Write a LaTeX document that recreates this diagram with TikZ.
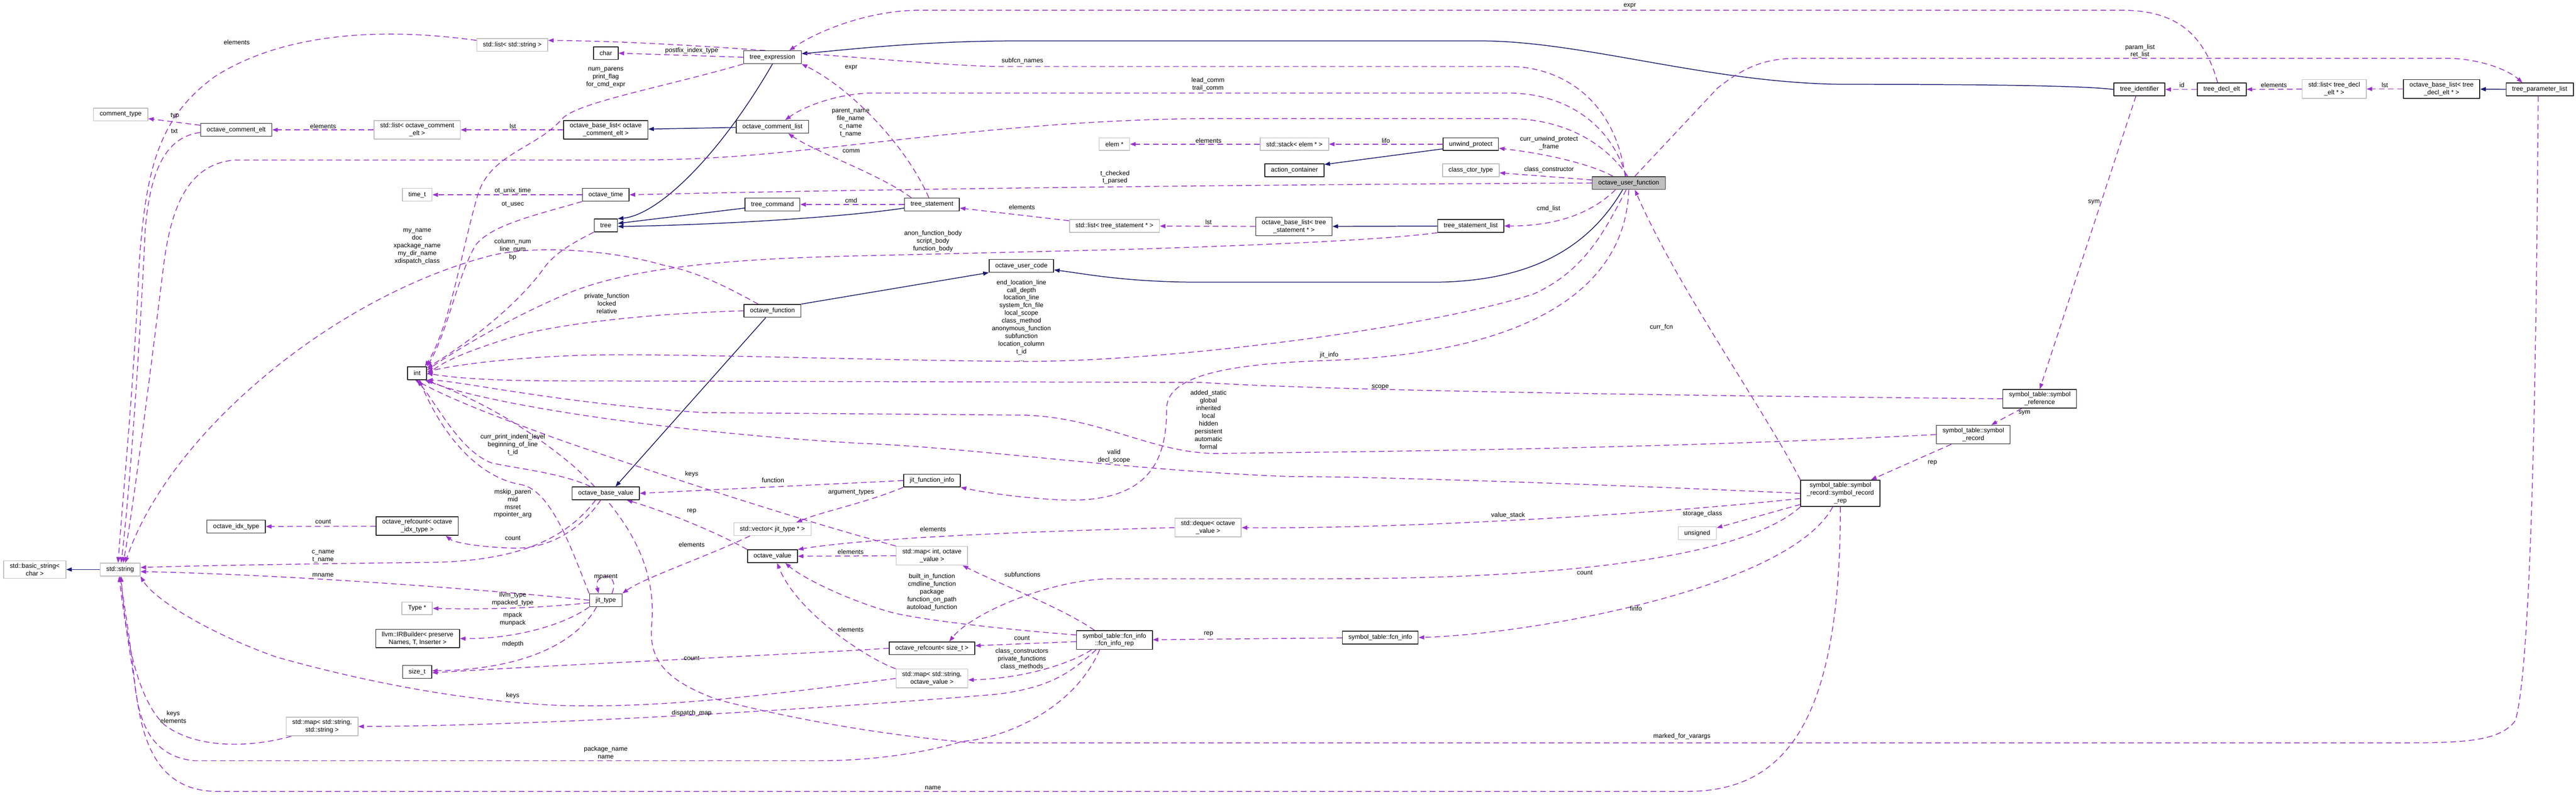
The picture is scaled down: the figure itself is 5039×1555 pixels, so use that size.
\documentclass[tikz,border=0pt]{standalone}
\usepackage{fontspec}
\setmainfont{Liberation Sans}
\usetikzlibrary{arrows.meta,backgrounds}
\definecolor{navy}{HTML}{191970}
\definecolor{orchid}{HTML}{9A32CD}
\definecolor{boxgray}{HTML}{BFBFBF}
\begin{document}
\begin{tikzpicture}[x=1pt, y=-1pt, font=\fontsize{12.5}{15}\selectfont, line join=round,
  cls/.style={draw=black!85, line width=1.5pt, fill=white, inner xsep=12pt, inner ysep=5pt, minimum height=25pt, align=center},
  ext/.style={cls, draw=boxgray},
  rootcls/.style={cls, fill=boxgray, draw=black!75},
  inhedge/.style={draw=navy, line width=1.5pt, -{Triangle[length=11pt,width=8pt]}},
  usedge/.style={draw=orchid, line width=1.5pt, dash pattern=on 11pt off 7pt, -{Triangle[length=11pt,width=8pt]}},
  lbl/.style={inner sep=0pt, align=center}]
\useasboundingbox (0,0) rectangle (5039,1555);
% classes
\node[ext] (ctype) at (236,224) {comment\_type};
\node[cls] (oce) at (462,254) {octave\_comment\_elt};
\node[ext] (lcom) at (816,254) {std::list< octave\_comment\\\_elt >};
\node[ext] (timet) at (816,381) {time\_t};
\node[cls] (int) at (816,730) {int};
\node[ext] (str) at (235,1114) {std::string};
\node[ext] (bstr) at (68,1114) {std::basic\_string<\\char >};
\node[cls] (idx) at (462,1030) {octave\_idx\_type};
\node[cls] (rci) at (816,1029) {octave\_refcount< octave\\\_idx\_type >};
\node[ext] (typep) at (816,1190) {Type *};
\node[cls] (irb) at (817,1249) {llvm::IRBuilder< preserve\\Names, T, Inserter >};
\node[cls] (sizet) at (816,1314) {size\_t};
\node[ext] (mss) at (630,1421) {std::map< std::string,\\std::string >};
\node[ext] (lstr) at (1002,88) {std::list< std::string >};
\node[cls] (char) at (1185,104) {char};
\node[cls] (texpr) at (1511,112) {tree\_expression};
\node[cls] (blc) at (1185,254) {octave\_base\_list< octave\\\_comment\_elt >};
\node[cls] (ocl) at (1511,248) {octave\_comment\_list};
\node[cls] (otime) at (1185,381) {octave\_time};
\node[cls] (tcmd) at (1511,400) {tree\_command};
\node[cls] (tree) at (1185,441) {tree};
\node[cls] (ofn) at (1511,608) {octave\_function};
\node[cls] (obv) at (1185,965) {octave\_base\_value};
\node[ext] (vjit) at (1511,1035) {std::vector< jit\_type * >};
\node[cls] (jit) at (1185,1174) {jit\_type};
\node[cls] (ov) at (1511,1088) {octave\_value};
\node[cls] (tstmt) at (1823,400) {tree\_statement};
\node[cls] (ouc) at (1998,520) {octave\_user\_code};
\node[cls] (jitfi) at (1823,940) {jit\_function\_info};
\node[ext] (mio) at (1823,1087) {std::map< int, octave\\\_value >};
\node[cls] (rcs) at (1823,1268) {octave\_refcount< size\_t >};
\node[ext] (mso) at (1823,1327) {std::map< std::string,\\octave\_value >};
\node[ext] (elem) at (2180,282) {elem *};
\node[ext] (lstmt) at (2180,442) {std::list< tree\_statement * >};
\node[cls] (fir) at (2180,1252) {symbol\_table::fcn\_info\\::fcn\_info\_rep};
\node[ext] (deque) at (2363,1032) {std::deque< octave\\\_value >};
\node[ext] (stack) at (2532,282) {std::stack< elem * >};
\node[cls] (act) at (2532,333) {action\_container};
\node[cls] (bls) at (2531,443) {octave\_base\_list< tree\\\_statement * >};
\node[cls] (uwp) at (2877,282) {unwind\_protect};
\node[ext] (cct) at (2877,333) {class\_ctor\_type};
\node[cls] (tsl) at (2877,442) {tree\_statement\_list};
\node[rootcls] (ouf) at (3186,358) {octave\_user\_function};
\node[cls] (tid) at (4185,175) {tree\_identifier};
\node[cls] (tde) at (4346,175) {tree\_decl\_elt};
\node[ext] (ldecl) at (4566,174) {std::list< tree\_decl\\\_elt * >};
\node[cls] (bld) at (4776,174) {octave\_base\_list< tree\\\_decl\_elt * >};
\node[cls] (tpl) at (4968,175) {tree\_parameter\_list};
\node[cls] (symref) at (3990,780) {symbol\_table::symbol\\\_reference};
\node[cls] (symrec) at (3860,850) {symbol\_table::symbol\\\_record};
\node[cls] (rep) at (3600,965) {symbol\_table::symbol\\\_record::symbol\_record\\\_rep};
\node[ext] (uns) at (3320,1043) {unsigned};
\node[cls] (fci) at (2700,1247) {symbol\_table::fcn\_info};
% connectors
\begin{scope}[on background layer]
\fill[white] (0,0) rectangle (5039,1555);
% inheritance
\draw[inhedge] (str) -- (bstr);
\draw[inhedge] (texpr.south) .. controls (1410,300) and (1290,420) .. (tree.north east);
\draw[inhedge] ([yshift=-7pt]tcmd.west) -- ([yshift=4pt]tree.east);
\draw[inhedge] ([yshift=-7pt]tstmt.west) .. controls (1650,425) and (1400,440) .. ([yshift=-2pt]tree.east);
\draw[inhedge] (ocl) -- (blc);
\draw[inhedge] (tid.west) .. controls (4080,168) and (3900,165) .. (3617,165) .. controls (3350,165) and (3100,80) .. (2895,80) -- (1991,80) .. controls (1800,80) and (1650,98) .. ([yshift=7pt]texpr.east);
\draw[inhedge] ([xshift=-13pt]ofn.south) -- ([xshift=19pt]obv.north);
\draw[inhedge] (ofn.north east) -- (ouc.south west);
\draw[inhedge] ([xshift=-12pt]ouf.south) .. controls (3110,480) and (3000,552) .. (2800,552) -- (2350,552) .. controls (2200,552) and (2120,535) .. ([yshift=-8pt]ouc.east);
\draw[inhedge] ([yshift=4pt]uwp.south west) -- ([yshift=-2pt]act.north east);
\draw[inhedge] (tsl) -- (bls);
\draw[inhedge] (tpl) -- (bld);
% usage
\draw[usedge] ([yshift=9pt]oce.west) -- ([yshift=-8pt]ctype.east);
\draw[usedge] ([yshift=-5pt]oce.west) .. controls (330,268) and (295,320) .. (284,450) .. controls (275,650) and (255,950) .. ([xshift=2pt]str.north);
\draw[usedge] ([yshift=9pt]lstr.west) .. controls (760,55) and (560,60) .. (420,150) .. controls (310,230) and (285,330) .. (272,520) .. controls (262,750) and (242,950) .. ([xshift=-4pt]str.north);
\draw[usedge] (lcom) -- (oce);
\draw[usedge] (blc) -- (lcom);
\draw[usedge] (texpr.west) -- (char.east);
\draw[usedge] ([xshift=-7pt]ouf.north) .. controls (3160,200) and (3060,130) .. (2950,130) -- (1950,130) .. controls (1800,128) and (1400,82) .. ([yshift=9pt]lstr.east);
\draw[usedge] ([xshift=-8pt]tde.north) .. controls (4310,60) and (4250,20) .. (4150,20) -- (1800,20) .. controls (1700,20) and (1600,60) .. ([xshift=33pt]texpr.north);
\draw[usedge] ([xshift=-6pt]tstmt.north) .. controls (1770,280) and (1660,170) .. (texpr.south east);
\draw[usedge] (texpr.south west) .. controls (1300,170) and (1130,200) .. (1100,232) .. controls (1050,290) and (960,300) .. (935,380) .. controls (905,480) and (880,640) .. ([xshift=-4pt]int.north east);
\draw[usedge] ([xshift=14pt]tstmt.north west) .. controls (1720,340) and (1600,300) .. ([xshift=31pt]ocl.south);
\draw[usedge] ([xshift=-5pt]ouf.north) .. controls (3150,240) and (3060,182) .. (2950,182) -- (1700,182) .. controls (1630,185) and (1570,210) .. ([xshift=25pt]ocl.north);
\draw[usedge] ([xshift=-2pt]ouf.north) .. controls (3140,280) and (3060,232) .. (2950,232) -- (2350,232) .. controls (2000,235) and (1700,285) .. (1450,305) .. controls (1350,312) and (1300,313) .. (1200,313) -- (460,313) .. controls (370,320) and (335,400) .. (320,520) .. controls (295,720) and (260,1000) .. ([xshift=6pt]str.north);
\draw[usedge] (ouf.west) .. controls (2600,360) and (1800,368) .. (otime.east);
\draw[usedge] (otime) -- (timet);
\draw[usedge] (otime.south west) .. controls (1050,420) and (960,440) .. (930,480) .. controls (895,540) and (875,650) .. (int.north east);
\draw[usedge] (tree.south west) .. controls (1110,480) and (1080,500) .. (1060,530) .. controls (1000,610) and (900,680) .. ([yshift=-3pt]int.north east);
\draw[usedge] (tstmt.west) -- (tcmd.east);
\draw[usedge] ([yshift=-3pt]lstmt.north west) -- ([yshift=-7pt]tstmt.east);
\draw[usedge] (bls) -- (lstmt);
\draw[usedge] ([xshift=-26pt]ouf.south) .. controls (3110,420) and (3040,442) .. (tsl.east);
\draw[usedge] (tsl.south west) .. controls (2700,470) and (2450,480) .. (2200,488) -- (1700,500) .. controls (1450,505) and (1250,520) .. (1120,570) .. controls (1000,620) and (900,680) .. ([yshift=6pt]int.east);
\draw[usedge] (stack) -- (elem);
\draw[usedge] (uwp) -- (stack);
\draw[usedge] ([xshift=-31pt]ouf.north) .. controls (3110,320) and (3020,300) .. ([yshift=-8pt]uwp.east);
\draw[usedge] ([yshift=6pt]ouf.west) -- ([yshift=-5pt]cct.east);
\draw[usedge] ([xshift=12pt]ouf.north) -- (3360,172) .. controls (3420,125) and (3460,114) .. (3520,114) -- (4790,114) .. controls (4860,116) and (4910,140) .. ([xshift=-34pt]tpl.north);
\draw[usedge] (tde) -- (tid);
\draw[usedge] (ldecl) -- (tde);
\draw[usedge] (bld) -- (ldecl);
\draw[usedge] ([xshift=-7pt]tid.south) -- (symref.north);
\draw[usedge] (symref) -- (symrec);
\draw[usedge] (symrec) -- (rep);
\draw[usedge] (rep.north west) .. controls (3450,800) and (3280,560) .. ([xshift=12pt]ouf.south);
\draw[usedge] (symref.west) .. controls (3400,775) and (2600,765) .. (2350,748) -- (1100,745) .. controls (950,745) and (880,738) .. (int.east);
\draw[usedge] (symrec.west) .. controls (3200,880) and (2600,884) .. (2376,887) .. controls (2250,885) and (2150,815) .. (2000,812) -- (1376,807) .. controls (1100,790) and (900,745) .. (int.south east);
\draw[usedge] (rep.west) .. controls (3200,950) and (2700,932) .. (2520,932) .. controls (2200,920) and (1900,875) .. (1680,867) .. controls (1300,845) and (950,790) .. ([xshift=-4pt]int.south east);
\draw[usedge] ([xshift=-5pt]ouf.south) .. controls (3140,450) and (3100,530) .. (3000,575) .. controls (2800,640) and (2300,707) .. (2000,707) .. controls (1700,705) and (1300,690) .. (1135,695) .. controls (1000,700) and (900,712) .. ([yshift=3pt]int.east);
\draw[usedge] (ouf.south) .. controls (3180,560) and (3000,690) .. (2600,705) .. controls (2380,712) and (2282,740) .. (2282,800) .. controls (2282,900) and (2250,990) .. (2060,977) .. controls (1980,972) and (1920,962) .. (jitfi.south east);
\draw[usedge] (jitfi.west) -- (obv.east);
\draw[usedge] (jitfi.south west) .. controls (1690,985) and (1610,1000) .. ([xshift=47pt]vjit.north);
\draw[usedge] ([xshift=-44pt]vjit.south) .. controls (1380,1090) and (1260,1130) .. (jit.north east);
\draw[usedge] ([xshift=12pt]jit.north) .. controls (1215,1118) and (1160,1118) .. ([xshift=-14pt]jit.north);
\draw[usedge] (jit.north west) .. controls (1120,1080) and (1080,960) .. (1020,948) .. controls (940,935) and (870,860) .. ([xshift=4pt]int.south);
\draw[usedge] (jit.west) .. controls (1000,1158) and (600,1125) .. ([yshift=-4pt]str.east);
\draw[usedge] ([yshift=-5pt]jit.west) .. controls (1050,1190) and (950,1192) .. (typep.east);
\draw[usedge] (jit.south west) .. controls (1100,1225) and (1000,1250) .. (irb.east);
\draw[usedge] ([xshift=-18pt]jit.south) .. controls (1120,1270) and (1000,1310) .. ([yshift=2pt]sizet.east);
\draw[usedge] (rcs.west) .. controls (1550,1280) and (1100,1300) .. ([yshift=-2pt]sizet.east);
\draw[usedge] (rci) -- (idx);
\draw[usedge] ([xshift=-10pt]obv.south) .. controls (1140,1030) and (1080,1075) .. (1000,1072) .. controls (940,1070) and (890,1062) .. ([xshift=56pt]rci.south);
\draw[usedge] ([xshift=-20pt]obv.south) .. controls (1110,1050) and (1020,1098) .. (840,1100) .. controls (600,1103) and (400,1106) .. ([yshift=4pt]str.east);
\draw[usedge] ([xshift=-30pt]obv.north) .. controls (1100,925) and (1000,915) .. (960,905) .. controls (900,880) and (860,800) .. (int.south);
\draw[usedge] (ov.north west) .. controls (1400,1040) and (1300,1000) .. ([xshift=41pt]obv.south);
\draw[usedge] (deque.west) .. controls (2000,1040) and (1700,1052) .. (ov.north east);
\draw[usedge] (mio.west) -- (ov.east);
\draw[usedge] (mio.north west) .. controls (1500,1000) and (1150,880) .. (1080,855) .. controls (1000,825) and (900,790) .. ([xshift=-4pt]int.south);
\draw[usedge] (mso.north west) .. controls (1700,1290) and (1560,1200) .. ([xshift=9pt]ov.south);
\draw[usedge] (mso.west) .. controls (1500,1360) and (1300,1385) .. (1100,1380) .. controls (900,1372) and (700,1330) .. (540,1285) .. controls (400,1235) and (300,1170) .. (str.south east);
\draw[usedge] ([xshift=-60pt]mss.south) .. controls (480,1465) and (380,1462) .. (322,1418) .. controls (270,1370) and (245,1250) .. ([xshift=2pt]str.south);
\draw[usedge] ([xshift=-29pt]fir.south) .. controls (2100,1390) and (1960,1445) .. (1883,1450) .. controls (1800,1475) and (1700,1488) .. (1600,1488) -- (380,1488) .. controls (300,1480) and (275,1420) .. (265,1350) .. controls (255,1250) and (242,1180) .. (str.south);
\draw[usedge] (rep.south) .. controls (3600,1400) and (3500,1548) .. (3300,1548) -- (420,1548) .. controls (320,1545) and (285,1470) .. (270,1380) .. controls (255,1280) and (240,1190) .. ([xshift=-2pt]str.south);
\draw[usedge] ([xshift=-36pt]fir.south) .. controls (2090,1320) and (2050,1345) .. (1950,1358) .. controls (1500,1395) and (1000,1420) .. (mss.east);
\draw[usedge] ([xshift=-45pt]fir.south) .. controls (2090,1300) and (2000,1327) .. ([yshift=-3pt]mso.east);
\draw[usedge] ([yshift=-3pt]fir.west) -- ([yshift=5pt]rcs.east);
\draw[usedge] ([yshift=10pt]fir.west) .. controls (1950,1230) and (1780,1210) .. (1734,1195) .. controls (1650,1170) and (1570,1130) .. ([xshift=25pt]ov.south);
\draw[usedge] ([xshift=-39pt]fir.north) .. controls (2080,1190) and (1950,1140) .. ([xshift=60pt]mio.south);
\draw[usedge] (rep.south west) .. controls (3400,1100) and (3000,1132) .. (2600,1132) -- (2170,1132) .. controls (2050,1135) and (1900,1200) .. ([xshift=34pt]rcs.north);
\draw[usedge] ([yshift=-10pt]rep.west) .. controls (3200,1010) and (2700,1035) .. (deque.east);
\draw[usedge] (rep) -- (uns);
\draw[usedge] ([xshift=-15pt]rep.south) .. controls (3500,1150) and (3000,1240) .. (fci.east);
\draw[usedge] (fci) -- (fir);
\draw[usedge] ([xshift=-3pt]tpl.south) .. controls (4962,600) and (4955,1300) .. (4920,1410) .. controls (4890,1450) and (4820,1453) .. (4700,1453) -- (1905,1453) .. controls (1800,1445) and (1600,1420) .. (1402,1368) .. controls (1300,1330) and (1268,1290) .. (1275,1220) .. controls (1285,1100) and (1220,1000) .. (1120,910) .. controls (1000,810) and (900,770) .. (int.south east);
\draw[usedge] ([xshift=-28pt]ofn.north) .. controls (1420,560) and (1360,530) .. (1295,518) .. controls (1200,490) and (1050,478) .. (960,500) .. controls (650,580) and (330,850) .. ([xshift=10pt]str.north);
\draw[usedge] (ofn.west) .. controls (1300,612) and (1100,630) .. (1000,660) .. controls (920,685) and (870,705) .. ([yshift=-3pt]int.east);
\end{scope}
% member labels
\node[lbl] (l-elts1) at (463,83) {elements};
\node[lbl] (l-typ) at (342,227) {typ};
\node[lbl] (l-txt) at (341,257) {txt};
\node[lbl] (l-elts2) at (632,247) {elements};
\node[lbl] (l-lst1) at (1003,247) {lst};
\node[lbl] (l-postfix) at (1353,99) {postfix\_index\_type};
\node[lbl] (l-parens) at (1185,152) {num\_parens\\print\_flag\\for\_cmd\_expr};
\node[lbl] (l-expr1) at (1665,132) {expr};
\node[lbl] (l-expr2) at (3188,12) {expr};
\node[lbl] (l-subfcn) at (2000,119) {subfcn\_names};
\node[lbl] (l-comm2) at (2363,165) {lead\_comm\\trail\_comm};
\node[lbl] (l-names) at (1664,240) {parent\_name\\file\_name\\c\_name\\t\_name};
\node[lbl] (l-comm) at (1665,296) {comm};
\node[lbl] (l-myname) at (816,482) {my\_name\\doc\\xpackage\_name\\my\_dir\_name\\xdispatch\_class};
\node[lbl] (l-unix) at (1003,373) {ot\_unix\_time};
\node[lbl] (l-usec) at (1003,400) {ot\_usec};
\node[lbl] (l-colnum) at (1003,488) {column\_num\\line\_num\\bp};
\node[lbl] (l-cmd) at (1665,392) {cmd};
\node[lbl] (l-elts3) at (1999,405) {elements};
\node[lbl] (l-lst2) at (2364,434) {lst};
\node[lbl] (l-body) at (1825,472) {anon\_function\_body\\script\_body\\function\_body};
\node[lbl] (l-elts4) at (2364,275) {elements};
\node[lbl] (l-lifo) at (2711,275) {lifo};
\node[lbl] (l-frame) at (3030,280) {curr\_unwind\_protect\\\_frame};
\node[lbl] (l-ctor) at (3030,332) {class\_constructor};
\node[lbl] (l-cmdlist) at (3029,408) {cmd\_list};
\node[lbl] (l-checked) at (2181,347) {t\_checked\\t\_parsed};
\node[lbl] (l-params) at (4186,100) {param\_list\\ret\_list};
\node[lbl] (l-id) at (4268,166) {id};
\node[lbl] (l-elts5) at (4448,166) {elements};
\node[lbl] (l-lst3) at (4665,166) {lst};
\node[lbl] (l-sym1) at (4096,396) {sym};
\node[lbl] (l-sym2) at (3960,808) {sym};
\node[lbl] (l-rep2) at (3780,905) {rep};
\node[lbl] (l-currfcn) at (3250,640) {curr\_fcn};
\node[lbl] (l-jitinfo) at (2600,695) {jit\_info};
\node[lbl] (l-scope) at (2700,757) {scope};
\node[lbl] (l-private) at (1187,594) {private\_function\\locked\\relative};
\node[lbl] (l-indent) at (1003,870) {curr\_print\_indent\_level\\beginning\_of\_line\\t\_id};
\node[lbl] (l-keys1) at (1353,927) {keys};
\node[lbl] (l-function) at (1512,939) {function};
\node[lbl] (l-argtypes) at (1665,963) {argument\_types};
\node[lbl] (l-mskip) at (1003,985) {mskip\_paren\\mid\\msret\\mpointer\_arg};
\node[lbl] (l-rep1) at (1353,1000) {rep};
\node[lbl] (l-endloc) at (1998,627) {end\_location\_line\\call\_depth\\location\_line\\system\_fcn\_file\\local\_scope\\class\_method\\anonymous\_function\\subfunction\\location\_column\\t\_id\\...};
\node[lbl] (l-static) at (2364,821) {added\_static\\global\\inherited\\local\\hidden\\persistent\\automatic\\formal};
\node[lbl] (l-valid) at (2179,893) {valid\\decl\_scope};
\node[lbl] (l-elts6) at (1825,1035) {elements};
\node[lbl] (l-elts7) at (1353,1065) {elements};
\node[lbl] (l-count1) at (1003,1053) {count};
\node[lbl] (l-cname) at (632,1088) {c\_name\\t\_name};
\node[lbl] (l-mname) at (632,1125) {mname};
\node[lbl] (l-count2) at (632,1020) {count};
\node[lbl] (l-mparent) at (1185,1128) {mparent};
\node[lbl] (l-llvm) at (1003,1172) {llvm\_type\\mpacked\_type};
\node[lbl] (l-mpack) at (1003,1211) {mpack\\munpack};
\node[lbl] (l-mdepth) at (1003,1260) {mdepth};
\node[lbl] (l-count3) at (1353,1287) {count};
\node[lbl] (l-keys2) at (1003,1361) {keys};
\node[lbl] (l-dispatch) at (1353,1395) {dispatch\_map};
\node[lbl] (l-pkg) at (1185,1472) {package\_name\\name};
\node[lbl] (l-keyselts) at (339,1402) {keys\\elements};
\node[lbl] (l-elts8) at (1664,1079) {elements};
\node[lbl] (l-elts9) at (1664,1232) {elements};
\node[lbl] (l-builtin) at (1823,1158) {built\_in\_function\\cmdline\_function\\package\\function\_on\_path\\autoload\_function};
\node[lbl] (l-subfns) at (2000,1124) {subfunctions};
\node[lbl] (l-count4) at (1999,1248) {count};
\node[lbl] (l-classctors) at (1999,1289) {class\_constructors\\private\_functions\\class\_methods};
\node[lbl] (l-rep3) at (2364,1240) {rep};
\node[lbl] (l-name) at (1825,1541) {name};
\node[lbl] (l-valstack) at (2950,1008) {value\_stack};
\node[lbl] (l-storage) at (3330,1005) {storage\_class};
\node[lbl] (l-count5) at (3100,1120) {count};
\node[lbl] (l-finfo) at (3200,1190) {finfo};
\node[lbl] (l-varargs) at (3290,1440) {marked\_for\_varargs};
\end{tikzpicture}
\end{document}
